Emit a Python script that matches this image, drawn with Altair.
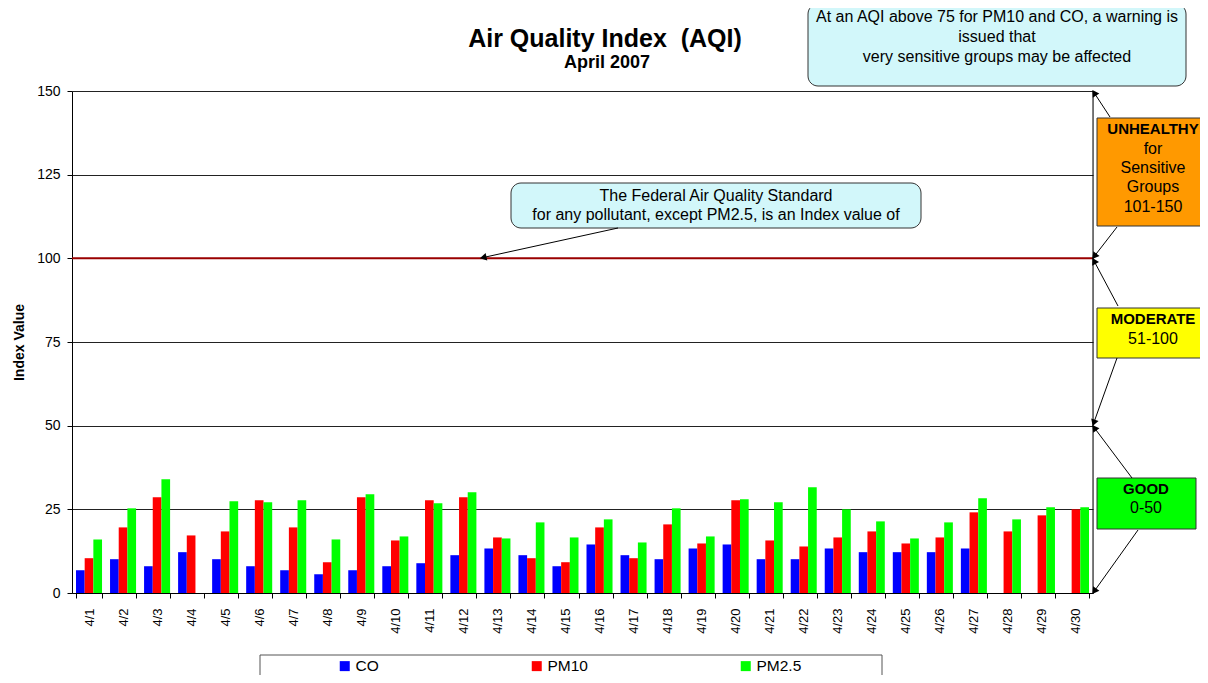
import math
import altair as alt
import pandas as pd

# ---------------- data ----------------
dates = ["4/1", "4/2", "4/3", "4/4", "4/5", "4/6", "4/7", "4/8", "4/9", "4/10",
         "4/11", "4/12", "4/13", "4/14", "4/15", "4/16", "4/17", "4/18", "4/19", "4/20",
         "4/21", "4/22", "4/23", "4/24", "4/25", "4/26", "4/27", "4/28", "4/29", "4/30"]
pollutants = ["CO", "PM10", "PM2.5"]
colors = ["#0000FF", "#FF0000", "#00FF00"]

co = [6.8, 10.1, 8.0, 12.2, 10.1, 8.0, 6.8, 5.6, 6.8, 8.0,
      8.9, 11.3, 13.3, 11.3, 8.0, 14.5, 11.3, 10.1, 13.3, 14.5,
      10.1, 10.1, 13.3, 12.2, 12.2, 12.2, 13.3, None, None, None]
pm10 = [10.4, 19.6, 28.6, 17.2, 18.4, 27.7, 19.6, 9.2, 28.6, 15.7,
        27.7, 28.6, 16.6, 10.4, 9.2, 19.6, 10.4, 20.5, 14.8, 27.7,
        15.7, 13.9, 16.6, 18.4, 14.8, 16.6, 24.1, 18.4, 23.2, 25.0]
pm25 = [16.0, 25.3, 34.0, None, 27.4, 27.1, 27.7, 16.0, 29.5, 16.9,
        26.8, 30.1, 16.3, 21.1, 16.6, 22.0, 15.1, 25.3, 16.9, 28.0,
        27.1, 31.6, 25.0, 21.4, 16.3, 21.1, 28.3, 22.0, 25.6, 25.6]

y_ticks = [0, 25, 50, 75, 100, 125, 150]
standard = 100

rows = []
for name, series in zip(pollutants, [co, pm10, pm25]):
    for d, v in zip(dates, series):
        if v is not None:
            rows.append({"date": d, "pollutant": name, "value": v})
df = pd.DataFrame(rows)

FONT = "Liberation Sans"
W, H = 1021, 502

# ---------------- main bars ----------------
bars = alt.Chart(df).mark_bar().encode(
    x=alt.X("date:N", sort=dates,
            scale=alt.Scale(domain=dates, paddingInner=0.235, paddingOuter=0.1175),
            axis=alt.Axis(title=None, labelAngle=-90, tickBand="extent", labelFontSize=13,
                          labelPadding=10, tickSize=5, domainColor="black", tickColor="black",
                          labelColor="black", labelFont=FONT, grid=False)),
    xOffset=alt.XOffset("pollutant:N", scale=alt.Scale(domain=pollutants)),
    y=alt.Y("value:Q", scale=alt.Scale(domain=[0, 150], nice=False),
            axis=alt.Axis(values=y_ticks, title="Index Value", titleFontSize=14,
                          titleFont=FONT, titleFontWeight="bold", titleColor="black",
                          titlePadding=10, labelFontSize=14, labelFont=FONT,
                          labelColor="black", labelPadding=7, tickSize=5,
                          tickColor="black", domainColor="black", grid=True,
                          gridColor="#222222", gridWidth=1)),
    color=alt.Color("pollutant:N", scale=alt.Scale(domain=pollutants, range=colors),
                    legend=alt.Legend(title=None, orient="none", legendX=265, legendY=567,
                                      direction="horizontal", columns=3, columnPadding=150,
                                      symbolType="square", symbolSize=100,
                                      symbolStrokeWidth=0, labelFontSize=15.5,
                                      labelFont=FONT, labelColor="black", padding=0,
                                      labelOffset=3)),
)

rule100 = alt.Chart(alt.Data(values=[{"v": standard}])).mark_rule(
    color="#9A0000", strokeWidth=2).encode(y=alt.Y("v:Q"))

one = alt.Data(values=[{"k": 1}])
layers = []

# right border of the plot
layers.append(alt.Chart(one).mark_rule(color="black", strokeWidth=1).encode(
    x=alt.value(W), y=alt.value(0), y2=alt.value(H)))


def box(x0, y0, x1, y1, fill, stroke="#333333", radius=0, sw=1):
    layers.append(alt.Chart(one).mark_rect(fill=fill, stroke=stroke, strokeWidth=sw,
                                           cornerRadius=radius).encode(
        x=alt.value(x0), x2=alt.value(x1), y=alt.value(y0), y2=alt.value(y1)))


def label(x, y, txt, size=16, weight="normal", baseline="middle"):
    layers.append(alt.Chart(one).mark_text(text=txt, font=FONT, fontSize=size,
                                           fontWeight=weight, color="black",
                                           align="center", baseline=baseline).encode(
        x=alt.value(x), y=alt.value(y)))


def arrow(x0, y0, x1, y1, size=60):
    dx, dy = x1 - x0, y1 - y0
    L = math.hypot(dx, dy)
    ux, uy = dx / L, dy / L
    ang = math.degrees(math.atan2(ux, -uy)) % 360
    h = 0.866 * math.sqrt(size) / 2
    cx, cy = x1 - ux * h, y1 - uy * h
    layers.append(alt.Chart(one).mark_rule(color="black", strokeWidth=1).encode(
        x=alt.value(x0), y=alt.value(y0), x2=alt.value(x1 - ux * h), y2=alt.value(y1 - uy * h)))
    layers.append(alt.Chart(one).mark_point(shape="triangle", filled=True, size=size,
                                            angle=ang, color="black", opacity=1,
                                            strokeWidth=0).encode(
        x=alt.value(cx), y=alt.value(cy)))


# positions relative to plot origin
# chart title
label(533, -44.3, "Air Quality Index\u00a0 (AQI)", 25, "bold", "alphabetic")
label(535, -22.7, "April 2007", 18, "bold", "alphabetic")

# top callout
box(736, -87, 1114, -5, "#D2F7FA", radius=10)
label(925, -74, "At an AQI above 75 for PM10 and CO, a warning is")
label(925, -54, "issued that")
label(925, -34, "very sensitive groups may be affected")

# federal standard callout
box(439, 92, 849, 137, "#D2F7FA", radius=10)
label(644, 105, "The Federal Air Quality Standard")
label(644, 124, "for any pollutant, except PM2.5, is an Index value of")
arrow(546, 137, 409, 167)

# category boxes
box(1025, 27, 1140, 135, "#FF9900")
label(1081, 38, "UNHEALTHY", 15, "bold")
label(1081, 58, "for")
label(1081, 77, "Sensitive")
label(1081, 96, "Groups")
label(1081, 116, "101-150")

box(1025, 217, 1140, 267, "#FFFF00")
label(1081, 228, "MODERATE", 15, "bold")
label(1081, 248, "51-100")

box(1025, 387, 1124, 438, "#00FF00")
label(1074, 398, "GOOD", 15, "bold")
label(1074, 417, "0-50")

arrow(1038, 26, 1021, 0)
arrow(1045, 136, 1021, 167)
arrow(1046, 215, 1021, 168)
arrow(1045, 267, 1021, 334)
arrow(1060, 387, 1021, 335)
arrow(1066, 439, 1021, 502)

# legend frame
box(188, 564, 810, 600, "transparent", stroke="#555555")

chart = alt.layer(bars, rule100, *layers).properties(
    width=W, height=H,
    padding={"left": 64, "top": 83, "right": 107, "bottom": 82},
    autosize=alt.AutoSizeParams(type="none"),
).configure_view(stroke="black", strokeWidth=1).configure(background="white")

chart.save("out.html", embed_options={"renderer": "svg", "actions": False})
